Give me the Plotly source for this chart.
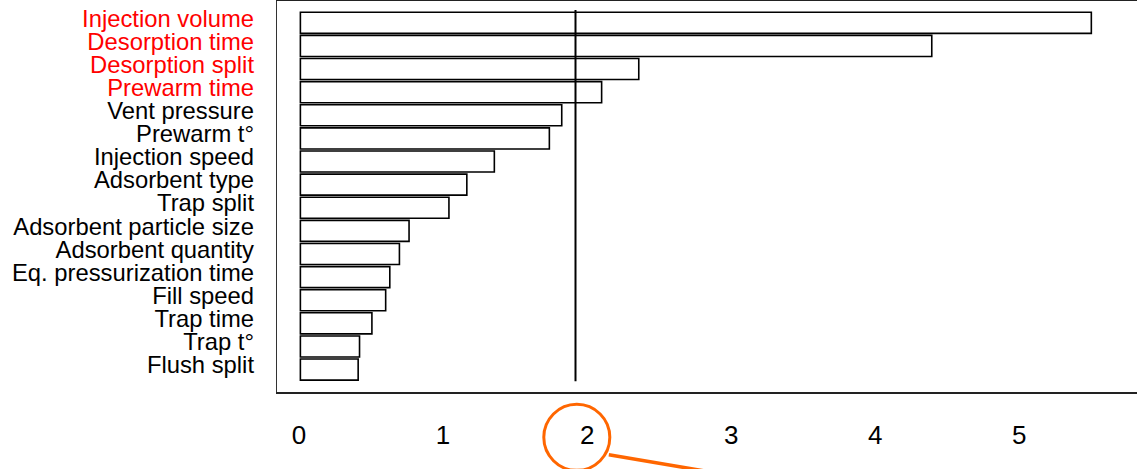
import plotly.graph_objects as go

# ---- data ----
factors = [
    "Injection volume", "Desorption time", "Desorption split", "Prewarm time",
    "Vent pressure", "Prewarm t°", "Injection speed", "Adsorbent type",
    "Trap split", "Adsorbent particle size", "Adsorbent quantity",
    "Eq. pressurization time", "Fill speed", "Trap time", "Trap t°", "Flush split",
]
effects = [5.75, 4.59, 2.46, 2.19, 1.90, 1.81, 1.41, 1.21,
           1.08, 0.79, 0.72, 0.65, 0.62, 0.52, 0.43, 0.42]
significant = [True, True, True, True] + [False] * 12
threshold = 2
tick_values = [0, 1, 2, 3, 4, 5]
tick_labels = ["0", "1", "2", "3", "4", "5"]

FONT = "Liberation Sans, Arial, Helvetica, sans-serif"
W, H = 1137, 469
L, T, B, R = 277.3, 1.0, 77.3, 0.0
plot_w = W - L - R
plot_h = H - T - B

positions = list(range(len(factors)))
styled = [
    f"<span style='color:#ff0000'>{f}</span>" if s else f
    for f, s in zip(factors, significant)
]

fig = go.Figure()
fig.add_trace(go.Bar(
    x=effects, y=positions, orientation="h",
    marker=dict(color="white", line=dict(color="black", width=1.6)),
    hoverinfo="skip", showlegend=False,
))
# invisible trace carrying the tick-label axes
fig.add_trace(go.Scatter(
    x=[tick_values[0], tick_values[-1]], y=[0, 0], xaxis="x2", yaxis="y2",
    mode="markers", marker=dict(opacity=0), hoverinfo="skip", showlegend=False,
))

n = len(factors)
# threshold line
fig.add_shape(type="line", xref="x", yref="y",
              x0=threshold, x1=threshold, y0=n - 0.5, y1=-0.56,
              line=dict(color="black", width=2))


def px(x):
    return (x - L) / plot_w


def py(y):
    return (H - B - y) / plot_h


# orange highlight circle around the "2" label and its leader line
fig.add_shape(type="circle", xref="paper", yref="paper",
              x0=px(544), x1=px(610), y0=py(404), y1=py(470),
              line=dict(color="#ff6600", width=3))
fig.add_shape(type="line", xref="paper", yref="paper",
              x0=px(609), y0=py(454.5), x1=px(725), y1=py(474),
              line=dict(color="#ff6600", width=3.5))

y_range = [15.97, -0.944]
label_shift = 0.2  # labels sit slightly above the bar centres

fig.update_layout(
    width=W, height=H,
    margin=dict(l=L, r=R, t=T, b=B, pad=0),
    paper_bgcolor="white", plot_bgcolor="white",
    bargap=0.09,
    font=dict(family=FONT, color="black"),
    xaxis=dict(
        range=[-0.170, 6.082], showgrid=False, zeroline=False,
        showticklabels=False, ticks="",
        showline=True, mirror=True, linecolor="#222", linewidth=1.6,
    ),
    xaxis2=dict(
        overlaying="x", anchor="y", side="bottom",
        range=[-0.1528, 5.817], showgrid=False, zeroline=False,
        showline=False, tickmode="array", tickvals=tick_values,
        ticktext=tick_labels, ticks="", ticklabelstandoff=25,
        tickfont=dict(family=FONT, size=26, color="black"),
    ),
    yaxis=dict(
        range=y_range, showgrid=False, zeroline=False,
        showticklabels=False, ticks="",
        showline=True, linecolor="#333", linewidth=1.2,
    ),
    yaxis2=dict(
        overlaying="y", anchor="x", side="left",
        range=[y_range[0] + label_shift, y_range[1] + label_shift],
        showgrid=False, zeroline=False, showline=False,
        tickmode="array", tickvals=positions, ticktext=styled,
        ticks="", ticklabelstandoff=22,
        tickfont=dict(family=FONT, size=23.8, color="black"),
    ),
)

fig.write_html(
    "out.html",
    config={"displayModeBar": False},
    post_script="document.body.style.margin='0';document.body.style.overflow='hidden';",
)
